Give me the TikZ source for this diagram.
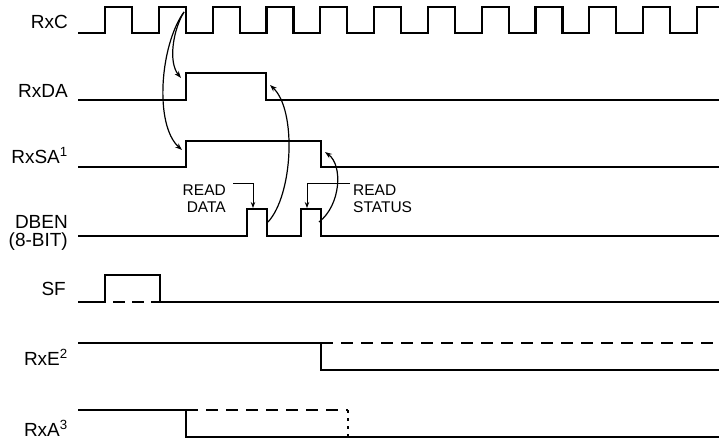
\documentclass[tikz,border=0pt]{standalone}
\usepackage{fontspec}
\setmainfont{Liberation Sans}
\usetikzlibrary{arrows.meta}
\begin{document}
\begin{tikzpicture}[x=1pt,y=-1pt,
  sig/.style={line width=2.2pt, line join=miter},
  thinsig/.style={line width=1.5pt},
  dsig/.style={line width=2.2pt, dash pattern=on 12pt off 8pt},
  lbl/.style={anchor=base east, font=\fontsize{19}{20}\selectfont, inner sep=0pt},
  ann/.style={font=\fontsize{15.5}{17}\selectfont, inner sep=0pt},
  cause/.style={line width=1.2pt, -{Stealth[length=7pt,width=5pt]}},
  lead/.style={line width=1pt, -{Stealth[length=6pt,width=4.5pt]}}]
\useasboundingbox (0,0) rectangle (719,439);

% labels
\node[lbl] (lC) at (68,28) {RxC};
\node[lbl] (lDA) at (68,97) {RxDA};
\node[lbl] (lSA) at (68,163) {RxSA\textsuperscript{1}};
\node[lbl] (lDB) at (68,228.5) {DBEN};
\node[lbl] (lDB2) at (68,246) {(8-BIT)};
\node[lbl] (lSF) at (66,295) {SF};
\node[lbl] (lE) at (68,365) {RxE\textsuperscript{2}};
\node[lbl] (lA) at (68,436) {RxA\textsuperscript{3}};

% RxC clock
\draw[sig] (78,33) foreach \k in {0,...,10}{ -- ({105+53.82*\k},33) -- ({105+53.82*\k},7) -- ({132+53.82*\k},7) -- ({132+53.82*\k},33)} -- (697,33) -- (697,7) -- (719,7);

% RxDA
\draw[sig] (78,100) -- (186,100) -- (186,73) -- (266,73) -- (266,100) -- (719,100);
% RxSA
\draw[sig] (78,167) -- (186,167) -- (186,141) -- (321,141) -- (321,167) -- (719,167);
% DBEN
\draw[sig] (78,236) -- (247,236) -- (247,209) -- (267,209) -- (267,236) -- (301,236) -- (301,209) -- (321,209) -- (321,236) -- (719,236);
% SF
\draw[sig] (78,302) -- (106,302);
\draw[thinsig] (105,302) -- (105,275) -- (160,275) -- (160,302);
\draw[line width=2.2pt, dash pattern=on 12pt off 7pt, dash phase=-7pt] (106,302) -- (160,302);
\draw[sig] (159,302) -- (719,302);
% RxE
\draw[sig] (78,343) -- (321,343) -- (321,370) -- (719,370);
\draw[dsig] (321,343) -- (719,343);
% RxA
\draw[sig] (78,410) -- (186,410) -- (186,437) -- (719,437);
\draw[dsig] (186,410) -- (348,410);
\draw[line width=2pt, dash pattern=on 3pt off 5pt] (348,410) -- (348,437);

% cause arrows
\coordinate (c1) at (184,12);
\coordinate (daR) at (181,78);
\coordinate (saR) at (182,150);
\coordinate (db1) at (268,222);
\coordinate (daF) at (270,85);
\coordinate (db2) at (319,222);
\coordinate (saF) at (325,152);
\draw[cause] (c1) .. controls (173,30) and (168,62) .. (daR);
\draw[cause] (c1) .. controls (160,45) and (154,125) .. (saR);
\draw[cause] (db1) .. controls (293,195) and (297,110) .. (daF);
\draw[cause] (db2) .. controls (341,205) and (343,165) .. (saF);

% annotations
\node[ann, anchor=base east] (rd1) at (226,195) {READ};
\node[ann, anchor=base east] (rd2) at (226,212) {DATA};
\node[ann, anchor=base west] (rs1) at (353,195) {READ};
\node[ann, anchor=base west] (rs2) at (353,212) {STATUS};
\coordinate (p1) at (253,208);
\coordinate (p2) at (307,208);
\draw[lead] (rd1.east) ++(7,-6) coordinate (l1) -- (l1 -| p1) -- (p1);
\draw[lead] (rs1.west) ++(-3,-6) coordinate (l2) -- (l2 -| p2) -- (p2);
\end{tikzpicture}
\end{document}
